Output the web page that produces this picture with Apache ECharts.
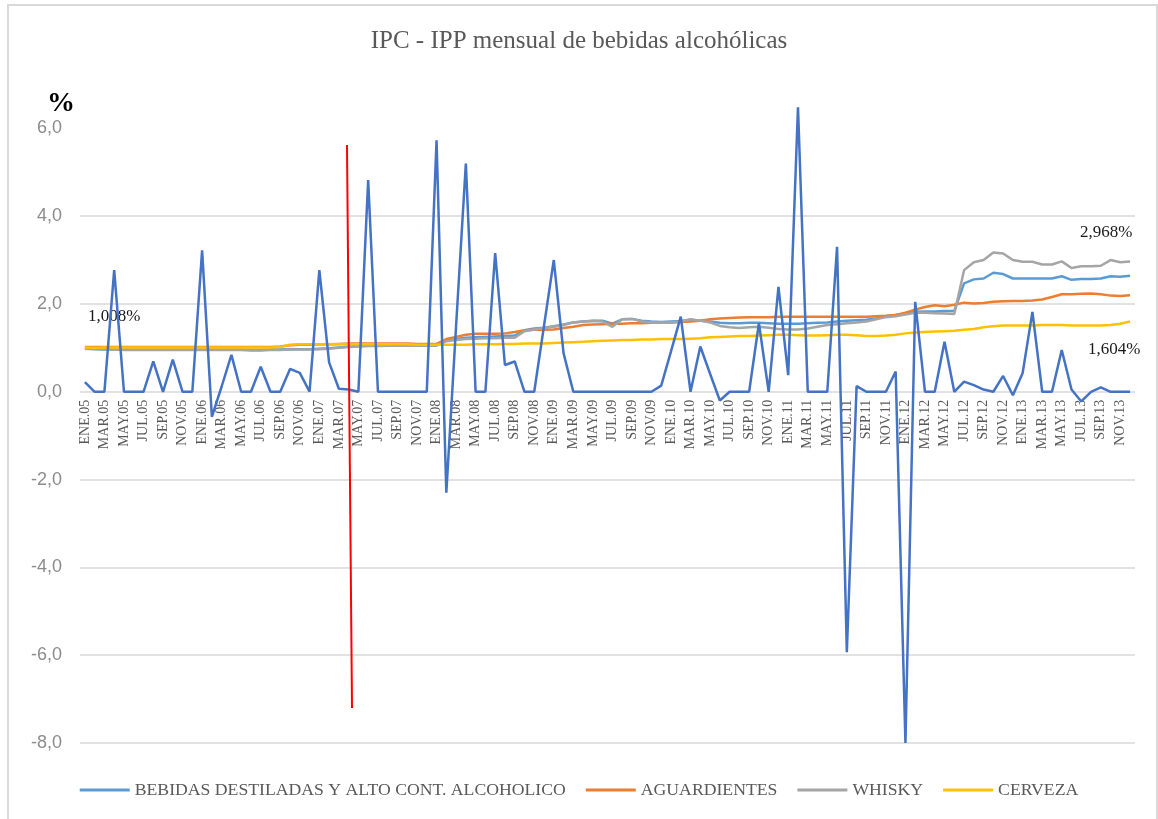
<!DOCTYPE html>
<html>
<head>
<meta charset="utf-8">
<title>IPC - IPP mensual de bebidas alcohólicas</title>
<script src="https://cdn.jsdelivr.net/npm/echarts@6/dist/echarts.min.js"></script>
<style>
html,body{margin:0;padding:0;background:#fff;}
#chart{width:1158px;height:819px;}
</style>
</head>
<body>
<div id="chart"></div>
<script>
// etiquetas del eje x
var meses = ['ENE','FEB','MAR','ABR','MAY','JUN','JUL','AGO','SEP','OCT','NOV','DIC'];
var anios = ['05','06','07','08','09','10','11','12','13'];

// variacion mensual (linea azul oscura, sin leyenda)
var ipp_mensual = [
  0.22, 0, 0, 2.77, 0, 0, 0, 0.69, 0, 0.73, 0, 0,
  3.22, -0.57, 0.12, 0.84, 0, 0, 0.57, 0, 0, 0.52, 0.43, 0,
  2.77, 0.67, 0.07, 0.05, 0, 4.82, 0, 0, 0, 0, 0, 0,
  5.73, -2.3, 1.5, 5.2, 0, 0, 3.16, 0.61, 0.69, 0, 0, 1.5,
  3.0, 0.88, 0, 0, 0, 0, 0, 0, 0, 0, 0, 0.14,
  0.92, 1.71, 0, 1.03, 0.41, -0.2, 0, 0, 0, 1.56, 0, 2.39,
  0.38, 6.48, 0, 0, 0, 3.3, -5.93, 0.13, 0, 0, 0, 0.46,
  -8.0, 2.05, 0, 0, 1.14, 0, 0.23, 0.15, 0.05, 0, 0.36, -0.08,
  0.43, 1.82, 0, 0, 0.95, 0.05, -0.22, 0, 0.1, 0, 0, 0
];
var destiladas = [
  0.98, 0.97, 0.96, 0.96, 0.96, 0.96, 0.96, 0.96, 0.96, 0.96, 0.96, 0.96,
  0.96, 0.96, 0.96, 0.96, 0.96, 0.95, 0.95, 0.96, 0.96, 0.97, 0.97, 0.97,
  0.98, 0.99, 1.01, 1.03, 1.04, 1.05, 1.05, 1.06, 1.06, 1.06, 1.06, 1.06,
  1.06, 1.17, 1.20, 1.23, 1.24, 1.25, 1.26, 1.27, 1.28, 1.40, 1.44, 1.46,
  1.49, 1.53, 1.58, 1.60, 1.62, 1.62, 1.55, 1.65, 1.66, 1.62, 1.60, 1.59,
  1.60, 1.61, 1.64, 1.62, 1.60, 1.57, 1.56, 1.56, 1.57, 1.57, 1.56, 1.55,
  1.55, 1.55, 1.56, 1.57, 1.58, 1.60, 1.62, 1.63, 1.64, 1.67, 1.72, 1.75,
  1.78, 1.82, 1.83, 1.83, 1.84, 1.84, 2.47, 2.56, 2.58, 2.71, 2.68, 2.58,
  2.58, 2.58, 2.58, 2.58, 2.63, 2.55, 2.57, 2.57, 2.58, 2.63, 2.62, 2.64
];
var aguardientes = [
  1.02, 1.02, 1.02, 1.02, 1.02, 1.02, 1.02, 1.02, 1.02, 1.02, 1.02, 1.02,
  1.02, 1.02, 1.02, 1.02, 1.02, 1.02, 1.02, 1.02, 1.03, 1.06, 1.07, 1.07,
  1.08, 1.08, 1.09, 1.10, 1.10, 1.10, 1.10, 1.10, 1.10, 1.10, 1.09, 1.09,
  1.09, 1.20, 1.25, 1.30, 1.32, 1.32, 1.32, 1.33, 1.36, 1.40, 1.41, 1.41,
  1.42, 1.45, 1.48, 1.52, 1.53, 1.54, 1.55, 1.55, 1.56, 1.56, 1.57, 1.58,
  1.58, 1.59, 1.60, 1.62, 1.65, 1.67, 1.68, 1.69, 1.70, 1.70, 1.70, 1.71,
  1.71, 1.71, 1.71, 1.71, 1.71, 1.71, 1.71, 1.71, 1.71, 1.72, 1.73, 1.75,
  1.80, 1.87, 1.93, 1.97, 1.95, 1.98, 2.03, 2.01, 2.02, 2.05, 2.06, 2.07,
  2.07, 2.08, 2.10, 2.16, 2.22, 2.22, 2.23, 2.24, 2.22, 2.19, 2.18, 2.20
];
var whisky = [
  0.98, 0.98, 0.97, 0.96, 0.95, 0.95, 0.95, 0.95, 0.95, 0.95, 0.95, 0.95,
  0.95, 0.95, 0.95, 0.95, 0.95, 0.94, 0.94, 0.95, 0.95, 0.96, 0.96, 0.96,
  0.97, 0.98, 1.00, 1.02, 1.03, 1.04, 1.04, 1.05, 1.05, 1.05, 1.05, 1.05,
  1.05, 1.15, 1.18, 1.20, 1.21, 1.22, 1.22, 1.23, 1.23, 1.38, 1.42, 1.45,
  1.48, 1.52, 1.58, 1.60, 1.61, 1.60, 1.48, 1.65, 1.66, 1.60, 1.58, 1.58,
  1.58, 1.60, 1.65, 1.62, 1.58, 1.50, 1.47, 1.45, 1.47, 1.48, 1.46, 1.43,
  1.42, 1.42, 1.44, 1.48, 1.52, 1.54, 1.56, 1.58, 1.60, 1.65, 1.70, 1.72,
  1.76, 1.80, 1.80, 1.79, 1.78, 1.77, 2.77, 2.95, 3.00, 3.17, 3.15, 3.00,
  2.96, 2.96, 2.90, 2.90, 2.97, 2.82, 2.86, 2.86, 2.87, 3.00, 2.95, 2.968
];
var cerveza = [
  1.008, 1.00, 1.01, 1.01, 1.01, 1.01, 1.01, 1.01, 1.01, 1.01, 1.01, 1.01,
  1.01, 1.01, 1.01, 1.01, 1.01, 1.01, 1.01, 1.01, 1.02, 1.07, 1.08, 1.08,
  1.08, 1.08, 1.08, 1.08, 1.08, 1.08, 1.08, 1.08, 1.08, 1.08, 1.07, 1.07,
  1.07, 1.07, 1.07, 1.07, 1.08, 1.08, 1.08, 1.09, 1.09, 1.10, 1.10, 1.10,
  1.11, 1.12, 1.13, 1.14, 1.15, 1.16, 1.17, 1.18, 1.18, 1.19, 1.19, 1.20,
  1.20, 1.20, 1.21, 1.22, 1.24, 1.25, 1.26, 1.27, 1.27, 1.28, 1.29, 1.30,
  1.30, 1.29, 1.28, 1.28, 1.29, 1.30, 1.30, 1.29, 1.27, 1.27, 1.28, 1.30,
  1.33, 1.35, 1.36, 1.37, 1.38, 1.39, 1.41, 1.43, 1.47, 1.49, 1.51, 1.51,
  1.51, 1.51, 1.52, 1.52, 1.52, 1.51, 1.51, 1.51, 1.51, 1.52, 1.55, 1.604
];
var lineas_guia = [-8, -6, -4, -2, 0, 2, 4];

var Y_MIN = -8, Y_MAX = 6.6;

function Ipc_chart(target){
  var myChart = echarts.init(document.getElementById(target));
  var cats = [];
  for(var a=0;a<anios.length;a++){
    for(var m=0;m<meses.length;m++)cats.push(meses[m]+'.'+anios[a]);
  }
  var guia = [];
  for(var g=0;g<lineas_guia.length;g++)guia.push({yAxis:lineas_guia[g]});
  var serif = '"Liberation Serif", "Times New Roman", serif';
  var grid = {left:80,right:23,top:102,bottom:76};
  // el eje de categorias cruza en 0: se sube desde el borde inferior
  var altoGrid = 819-grid.top-grid.bottom;
  var subir = altoGrid*(0-Y_MIN)/(Y_MAX-Y_MIN);
  var option = {
    backgroundColor:'#fff',
    animation:false,
    title:{
      text:'IPC - IPP mensual de bebidas alcohólicas',
      left:'center',
      top:24,
      textStyle:{fontFamily:serif,fontWeight:'normal',fontSize:25,color:'#595959'}
    },
    legend:{
      data:['BEBIDAS DESTILADAS Y ALTO CONT. ALCOHOLICO','AGUARDIENTES','WHISKY','CERVEZA'],
      left:'center',
      top:776,
      icon:'rect',
      itemWidth:50,
      itemHeight:3,
      itemGap:20,
      textStyle:{fontFamily:serif,fontSize:17.7,color:'#595959'}
    },
    grid:grid,
    xAxis:{
      type:'category',
      data:cats,
      boundaryGap:true,
      position:'bottom',
      offset:-subir,
      axisLine:{show:false,onZero:false},
      axisTick:{show:false},
      axisLabel:{interval:1,rotate:90,margin:8,fontFamily:serif,fontSize:14,color:'#595959'}
    },
    yAxis:{
      type:'value',
      min:Y_MIN,
      max:Y_MAX,
      interval:2,
      splitLine:{show:false},
      axisLine:{show:false},
      axisTick:{show:false},
      axisLabel:{
        margin:18,
        fontFamily:'"Liberation Sans", Arial, sans-serif',
        fontSize:18,
        color:'#8c8c8c',
        formatter:function(v){
          if(Math.abs(v%2)>0.001)return '';
          return v.toFixed(1).replace('.',',');
        }
      }
    },
    graphic:[
      {type:'rect',shape:{x:8,y:5,width:1149,height:830},style:{fill:'none',stroke:'#d9d9d9',lineWidth:2},silent:true},
      {type:'text',left:47,top:90,style:{text:'%',font:'bold 28px "Liberation Serif", serif',fill:'#000'}},
      {type:'text',left:88,top:308,style:{text:'1,008%',font:'17px "Liberation Serif", serif',fill:'#1a1a1a'}},
      {type:'text',left:1080,top:224,style:{text:'2,968%',font:'17px "Liberation Serif", serif',fill:'#1a1a1a'}},
      {type:'text',left:1088,top:341,style:{text:'1,604%',font:'17px "Liberation Serif", serif',fill:'#1a1a1a'}},
      {type:'line',shape:{x1:347,y1:145,x2:352,y2:708},style:{stroke:'#ff0000',lineWidth:2},z:100}
    ],
    series:[]
  };
  var dats = [
    {name:'BEBIDAS DESTILADAS Y ALTO CONT. ALCOHOLICO',color:'#5b9bd5',dat:destiladas},
    {name:'AGUARDIENTES',color:'#ed7d31',dat:aguardientes},
    {name:'WHISKY',color:'#a5a5a5',dat:whisky},
    {name:'CERVEZA',color:'#ffc000',dat:cerveza},
    {name:'IPP MENSUAL',color:'#4472c4',dat:ipp_mensual}
  ];
  for(var i=0;i<dats.length;i++){
    var item = {
      name:dats[i].name,
      type:'line',
      symbol:'none',
      smooth:false,
      itemStyle:{color:dats[i].color},
      lineStyle:{color:dats[i].color,width:2.5},
      data:dats[i].dat
    };
    if(i==0){
      // lineas de cuadricula (sin linea en 6,0 como en el original)
      item.markLine = {
        silent:true,
        symbol:['none','none'],
        label:{show:false},
        lineStyle:{color:'#d9d9d9',type:'solid',width:1.5},
        data:guia,
        z:0
      };
    }
    option.series.push(item);
  }
  myChart.setOption(option);
}
Ipc_chart('chart');
</script>
</body>
</html>
